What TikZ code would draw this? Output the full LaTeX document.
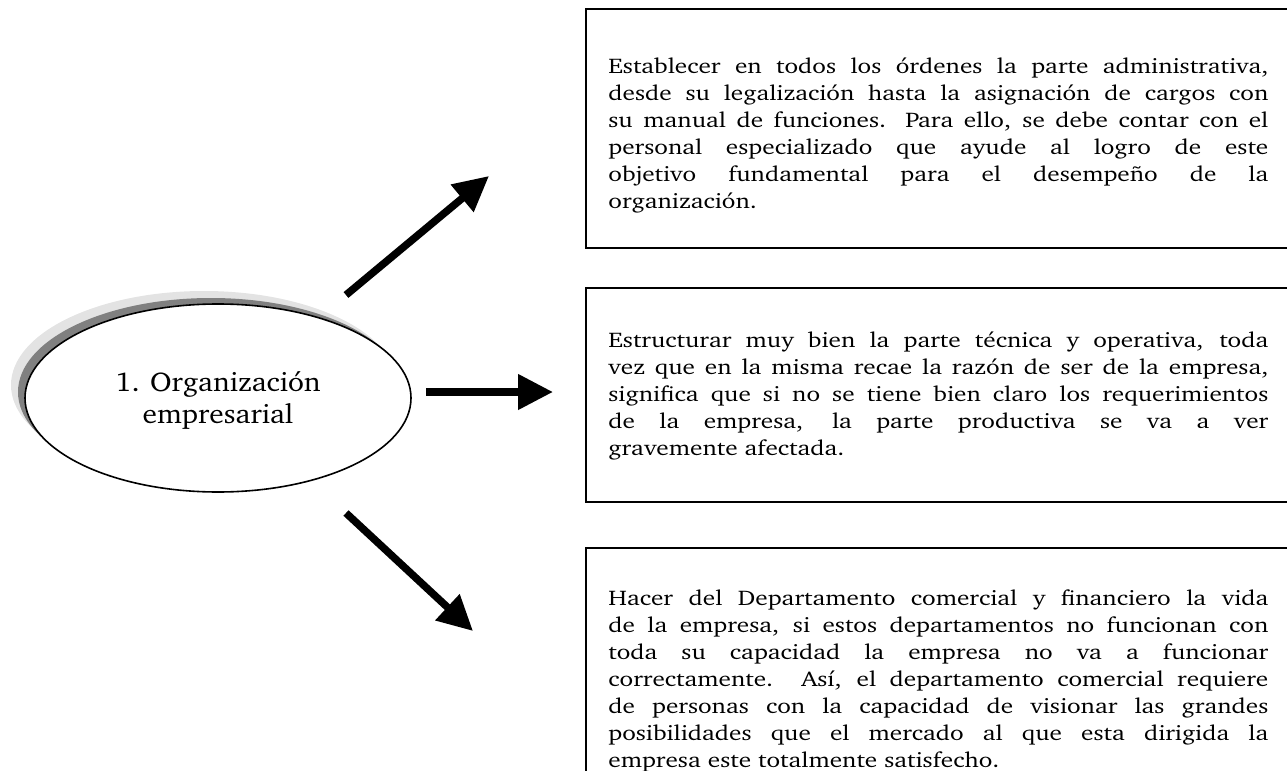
\documentclass[tikz,border=0pt]{standalone}
\usepackage[T1]{fontenc}
\renewcommand{\rmdefault}{bch}
\usetikzlibrary{arrows.meta,shapes.geometric}
\newlength{\btw}\setlength{\btw}{277.3pt}
\newcommand{\jl}[1]{{\spaceskip=0pt\xspaceskip=0pt\makebox[\btw][s]{#1}}\\}
\newcommand{\btxt}[1]{\scalebox{1.19}[1]{\parbox[t]{\btw}{\fontsize{10.6}{13.5}\selectfont\rule{0pt}{9pt}#1}}}
\definecolor{shdark}{HTML}{808080}
\definecolor{shlight}{HTML}{E3E3E3}
\tikzset{
  boxshape/.style={draw, line width=1pt, rectangle, anchor=north west, inner sep=0pt, minimum width=360pt},
  btext/.style={anchor=north west, inner sep=0pt},
  bigarrow/.style={line width=3.75pt, -{Triangle[length=17.5pt,width=17pt]}},
  orgnode/.style={ellipse, draw, line width=0.8pt, fill=white, minimum width=193pt, minimum height=94pt, inner sep=0pt, font=\fontsize{13.5}{16}\selectfont}
}
\begin{document}
\begin{tikzpicture}[x=0.5pt,y=-0.5pt]
\useasboundingbox (0,0) rectangle (1287,771);
% ellipse with shadows
\coordinate (oc) at (218,398);
\fill[shlight] ([shift={(-14,-13)}]oc) ellipse [x radius=96.5pt, y radius=47pt];
\fill[shdark] ([shift={(-7,-6)}]oc) ellipse [x radius=96.5pt, y radius=47pt];
\node[orgnode] (org) at (oc) {\scalebox{1.09}[1]{\begin{tabular}{@{}c@{}}\rule{0pt}{13.8pt}1. Organización\\empresarial\end{tabular}}};
% boxes
\node[boxshape, minimum height=119.5pt] (b1) at (585,8) {};
\node[boxshape, minimum height=107pt] (b2) at (585,287) {};
\node[boxshape, minimum height=150pt] (b3) at (585,547) {};
\node[btext] (t1) at ([xshift=11.5pt,yshift=-23.5pt]b1.north west) {\btxt{%
\jl{Establecer en todos los órdenes la parte administrativa,}
\jl{desde su legalización hasta la asignación de cargos con}
\jl{su manual de funciones. Para ello, se debe contar con el}
\jl{personal especializado que ayude al logro de este}
\jl{objetivo fundamental para el desempeño de la}
organización.}};
\node[btext] (t2) at ([xshift=11.5pt,yshift=-21pt]b2.north west) {\btxt{%
\jl{Estructurar muy bien la parte técnica y operativa, toda}
\jl{vez que en la misma recae la razón de ser de la empresa,}
\jl{significa que si no se tiene bien claro los requerimientos}
\jl{de la empresa, la parte productiva se va a ver}
gravemente afectada.}};
\node[btext] (t3) at ([xshift=11.5pt,yshift=-20pt]b3.north west) {\btxt{%
\jl{Hacer del Departamento comercial y financiero la vida}
\jl{de la empresa, si estos departamentos no funcionan con}
\jl{toda su capacidad la empresa no va a funcionar}
\jl{correctamente. Así, el departamento comercial requiere}
\jl{de personas con la capacidad de visionar las grandes}
\jl{posibilidades que el mercado al que esta dirigida la}
empresa este totalmente satisfecho.}};
% arrows
\coordinate (a1s) at (346,295);
\coordinate (a1e) at (489,176);
\coordinate (a2s) at (426,392);
\coordinate (a2e) at (553,392);
\coordinate (a3s) at (346,513);
\coordinate (a3e) at (473,631);
\draw[bigarrow] (a1s) -- (a1e);
\draw[bigarrow] (a2s) -- (a2e);
\draw[bigarrow] (a3s) -- (a3e);
\end{tikzpicture}
\end{document}
